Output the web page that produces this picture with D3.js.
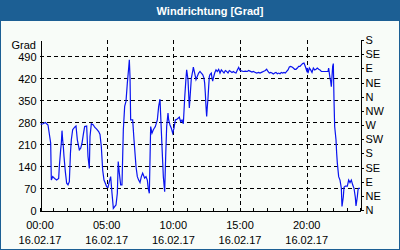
<!DOCTYPE html>
<html>
<head>
  <meta charset="utf-8">
  <script src="https://cdnjs.cloudflare.com/ajax/libs/d3/7.8.5/d3.min.js"></script>
  <style>
    html, body { margin: 0; padding: 0; background: #fff; }
    svg text { font-family: "Liberation Sans", Arial, sans-serif; font-size: 11px; }
  </style>
</head>
<body>
  <div id="chart"></div>
  <script>
    // wind direction, minutes after midnight and degrees
    var minutes = [3, 14, 24, 36, 48, 51, 57, 66, 75, 84, 87, 93, 96, 99, 102, 105, 108, 114, 120, 126,
      132, 137, 141, 147, 156, 162, 168, 177, 183, 189, 195, 201, 210, 216, 222, 225, 231, 240, 246, 255,
      264, 270, 276, 282, 288, 294, 300, 306, 312, 318, 324, 330, 336, 342, 348, 352, 357, 363, 369, 375,
      381, 387, 393, 399, 402, 405, 408, 417, 423, 432, 438, 444, 450, 456, 462, 471, 477, 483, 487, 492,
      498, 504, 510, 519, 528, 534, 540, 543, 549, 555, 561, 566, 570, 576, 579, 585, 591, 597, 603, 609,
      618, 627, 633, 639, 645, 651, 657, 660, 666, 672, 675, 681, 687, 690, 696, 702, 708, 714, 720, 726,
      732, 738, 741, 744, 747, 750, 753, 756, 759, 762, 765, 771, 774, 777, 780, 786, 792, 798, 804, 810,
      816, 822, 828, 834, 840, 846, 852, 858, 864, 870, 876, 882, 888, 894, 900, 906, 915, 924, 933, 939,
      945, 954, 960, 969, 975, 984, 990, 999, 1005, 1014, 1020, 1026, 1032, 1038, 1044, 1050, 1056, 1062, 1068, 1074,
      1080, 1086, 1092, 1098, 1104, 1110, 1116, 1122, 1128, 1134, 1140, 1146, 1152, 1158, 1164, 1170, 1176, 1182, 1188, 1194,
      1200, 1203, 1206, 1212, 1218, 1224, 1230, 1236, 1242, 1248, 1254, 1260, 1266, 1272, 1278, 1284, 1290, 1296, 1299, 1302,
      1305, 1308, 1311, 1314, 1317, 1320, 1323, 1326, 1332, 1335, 1338, 1344, 1350, 1356, 1359, 1365, 1368, 1374, 1383, 1389,
      1395, 1401, 1407, 1413, 1419, 1422, 1428, 1431, 1434, 1440];
    var degrees = [272, 274, 278, 270, 213, 95, 106, 100, 95, 100, 138, 191, 213, 252, 223, 201, 170, 122, 85, 80,
      90, 180, 223, 255, 263, 267, 223, 191, 196, 212, 240, 265, 267, 170, 132, 233, 274, 270, 263, 257,
      249, 240, 201, 127, 95, 85, 74, 72, 90, 106, 53, 5, 11, 16, 53, 154, 117, 80, 80, 255,
      329, 345, 403, 451, 477, 424, 286, 286, 223, 138, 106, 95, 87, 106, 117, 101, 106, 95, 69, 53,
      265, 244, 255, 265, 286, 329, 352, 302, 201, 106, 58, 180, 265, 308, 286, 270, 260, 244, 260, 286,
      289, 295, 280, 286, 274, 355, 419, 445, 414, 324, 355, 419, 440, 454, 435, 414, 425, 435, 440, 435,
      430, 419, 403, 371, 329, 297, 329, 355, 392, 424, 430, 435, 419, 409, 419, 435, 445, 440, 447, 435,
      445, 440, 435, 443, 440, 435, 443, 440, 437, 440, 437, 435, 445, 453, 443, 442, 440, 441, 440, 443,
      441, 438, 440, 437, 435, 437, 435, 438, 440, 443, 447, 440, 435, 437, 435, 432, 435, 437, 433, 435,
      433, 437, 435, 437, 435, 440, 445, 454, 456, 454, 451, 447, 447, 451, 456, 456, 461, 465, 467, 456,
      443, 451, 435, 451, 445, 437, 451, 445, 447, 451, 447, 445, 440, 440, 440, 440, 440, 440, 451, 435,
      419, 409, 392, 425, 456, 465, 350, 265, 223, 180, 149, 106, 95, 69, 11, 42, 72, 76, 76, 95,
      87, 95, 80, 69, 40, 13, 42, 64, 69, 69];

    var leftTicks = [0, 70, 140, 210, 280, 350, 420, 490];
    var compass = ["N", "NE", "E", "SE", "S", "SW", "W", "NW", "N", "NE", "E", "SE", "S"];
    var hourTicks = [0, 5, 10, 15, 20];
    var dateLabel = "16.02.17";

    var W = 400, H = 250;
    var padL = 40, padR = 360, padT = 40, padB = 210;

    var svg = d3.select("#chart").append("svg")
      .attr("width", W).attr("height", H);

    // frame and title bar
    svg.append("rect").attr("x", 0).attr("y", 0).attr("width", W).attr("height", H).attr("fill", "#1c5f94");
    svg.append("rect").attr("x", 1).attr("y", 21).attr("width", W - 2).attr("height", H - 22).attr("fill", "#f8fcf8");
    svg.append("text")
      .attr("x", 210).attr("y", 14.5)
      .attr("text-anchor", "middle")
      .attr("fill", "#fff")
      .style("font-weight", "bold")
      .text("Windrichtung [Grad]");

    var x = d3.scaleLinear().domain([0, 24 * 60]).range([padL, padR]);
    var y = d3.scaleLinear().domain([0, 540]).range([padB, padT]);

    var g = svg.append("g").attr("shape-rendering", "crispEdges");

    // dashed grid
    g.selectAll(".hgrid").data(leftTicks.slice(1)).enter().append("line")
      .attr("x1", padL).attr("x2", padR)
      .attr("y1", function(d) { return Math.round(y(d)) + 0.5; })
      .attr("y2", function(d) { return Math.round(y(d)) + 0.5; })
      .attr("stroke", "#000").attr("stroke-dasharray", "4,3");
    g.selectAll(".vgrid").data(hourTicks.slice(1)).enter().append("line")
      .attr("y1", padT).attr("y2", padB)
      .attr("x1", function(d) { return Math.round(x(d * 60)) + 0.5; })
      .attr("x2", function(d) { return Math.round(x(d * 60)) + 0.5; })
      .attr("stroke", "#000").attr("stroke-dasharray", "4,3");

    // left axis
    var yAxis = d3.axisLeft(y).tickValues(leftTicks).tickSize(0).tickPadding(4);
    var ya = svg.append("g").attr("transform", "translate(" + (padL + 0.5) + ",0)").call(yAxis);
    ya.select(".domain").attr("shape-rendering", "crispEdges");
    ya.selectAll("text").style("font-size", "11px").attr("fill", "#000").attr("dy", "0.45em")
      .attr("font-family", "Liberation Sans, Arial, sans-serif");
    svg.append("text").attr("x", 36).attr("y", 49).attr("text-anchor", "end").text("Grad");

    // right axis, compass points every 45 degrees
    var rAxis = d3.axisRight(y).tickValues(d3.range(0, 541, 45)).tickSize(3).tickPadding(2)
      .tickFormat(function(d, i) { return compass[i]; });
    var ra = svg.append("g").attr("transform", "translate(" + (padR + 0.5) + ",0)").call(rAxis);
    ra.selectAll("path, line").attr("shape-rendering", "crispEdges");
    ra.selectAll("text").style("font-size", "11px").attr("fill", "#000")
      .attr("font-family", "Liberation Sans, Arial, sans-serif");

    // bottom axis, inner ticks every hour
    var xAxis = d3.axisBottom(x).tickValues(d3.range(0, 24 * 60 + 1, 60)).tickSize(-3).tickFormat("");
    var xa = svg.append("g").attr("transform", "translate(0," + (padB + 0.5) + ")").call(xAxis);
    xa.selectAll("path, line").attr("shape-rendering", "crispEdges");

    var lab = svg.selectAll(".xl").data(hourTicks).enter().append("g")
      .attr("transform", function(d) { return "translate(" + x(d * 60) + ",0)"; });
    lab.append("text").attr("y", 229).attr("text-anchor", "middle")
      .text(function(d) { return (d < 10 ? "0" : "") + d + ":00"; });
    lab.append("text").attr("y", 244).attr("text-anchor", "middle").text(dateLabel);

    // wind direction line
    var pts = minutes.map(function(m, i) { return [m, degrees[i]]; });
    var line = d3.line()
      .x(function(d) { return x(d[0]); })
      .y(function(d) { return y(d[1]); });
    svg.append("path")
      .attr("d", line(pts))
      .attr("fill", "none")
      .attr("stroke", "#0a14f0")
      .attr("stroke-width", 1.2);
  </script>
</body>
</html>
